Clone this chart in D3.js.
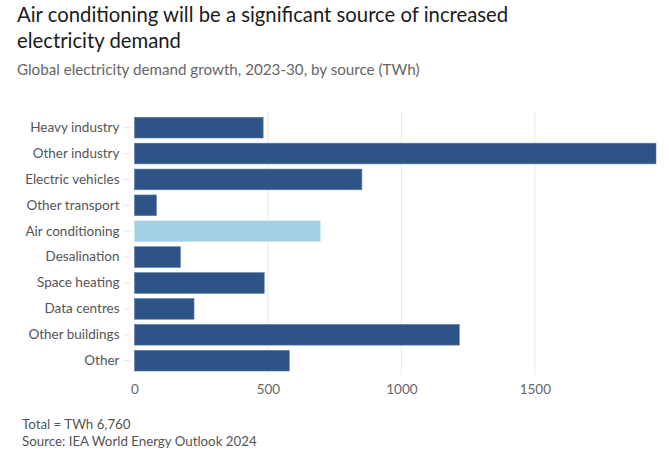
<!DOCTYPE html>
<html><head><meta charset="utf-8">
<script src="https://cdn.jsdelivr.net/npm/d3@7"></script>
<style>
html,body{margin:0;padding:0;background:#fff;}
svg{display:block;font-family:Lato, "Open Sans", sans-serif;}
</style></head>
<body>
<svg id="c" width="669" height="453"></svg>
<script>
const categories = ["Heavy industry","Other industry","Electric vehicles","Other transport","Air conditioning","Desalination","Space heating","Data centres","Other buildings","Other"];
const values = [482,1954,852,82,696,172,486,223,1217,580];
const highlight = ["Air conditioning"];
const xTicks = [0,500,1000,1500];
const titleLines = ["Air conditioning will be a significant source of increased","electricity demand"];
const subtitle = "Global electricity demand growth, 2023-30, by source (TWh)";
const notes = ["Total = TWh 6,760","Source: IEA World Energy Outlook 2024"];

const data = categories.map((c,i)=>({c, v: values[i]}));
const svg = d3.select("#c");
const left = 134.5, right = 656;
const x = d3.scaleLinear().domain([0,1954]).range([left, right]);
const y = d3.scaleBand().domain(categories).range([114.7, 373.6]).paddingInner(0.2).paddingOuter(0.1);

// title
svg.selectAll("text.title").data(titleLines).join("text")
  .attr("class","title").attr("x",17).attr("y",(d,i)=>22+i*26)
  .attr("font-size",20.3).attr("fill","#1a1a1a").text(d=>d);
svg.append("text").attr("x",17).attr("y",75).attr("font-size",15.2)
  .attr("fill","#666").text(subtitle);

// grid
svg.append("g").selectAll("line").data(xTicks.filter(t=>t>0)).join("line")
  .attr("x1",d=>x(d)).attr("x2",d=>x(d)).attr("y1",112).attr("y2",375)
  .attr("stroke","#ececec").attr("stroke-width",1.2);

// x axis
const xa = svg.append("g").attr("transform","translate(0,375)")
  .call(d3.axisBottom(x).tickValues(xTicks).tickSize(0).tickPadding(9).tickFormat(d3.format("d")));
xa.select(".domain").remove();
xa.selectAll("text").attr("font-size",13.5).attr("fill","#666").attr("font-family","Lato, sans-serif");

// y axis
const ya = svg.append("g").attr("transform",`translate(${left-4},0)`)
  .call(d3.axisLeft(y).tickSize(7).tickPadding(4));
ya.select(".domain").remove();
ya.selectAll("line").attr("stroke","#e6e6e6");
ya.selectAll("text").attr("font-size",13.5).attr("fill","#555").attr("font-family","Lato, sans-serif");

// bars
svg.append("g").selectAll("rect").data(data).join("rect")
  .attr("x",x(0)).attr("y",d=>y(d.c)).attr("height",y.bandwidth())
  .attr("width",d=>x(d.v)-x(0))
  .attr("fill",d=>highlight.includes(d.c)?"#a3cfe2":"#2e5386")
  .attr("stroke",d=>highlight.includes(d.c)?"#c4e2ee":"#5d7ba6").attr("stroke-width",0.6);

// notes
svg.selectAll("text.note").data(notes).join("text")
  .attr("class","note").attr("x",22).attr("y",(d,i)=>429+i*17)
  .attr("font-size",13.3).attr("fill","#555").text(d=>d);
</script>
</body></html>
